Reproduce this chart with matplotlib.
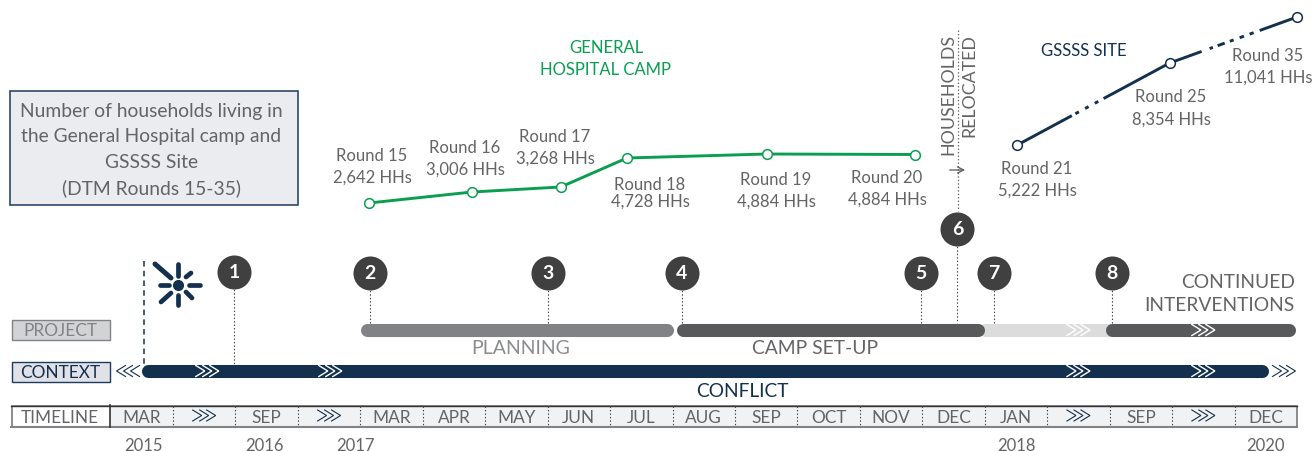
import matplotlib
matplotlib.use("Agg")
import matplotlib.pyplot as plt
from matplotlib.patches import Rectangle

plt.rcParams['font.family'] = ['Lato', 'DejaVu Sans']
plt.rcParams['lines.scale_dashes'] = False

# household counts per DTM round
green_rounds = ['Round 15', 'Round 16', 'Round 17', 'Round 18', 'Round 19', 'Round 20']
green_hhs = ['2,642 HHs', '3,006 HHs', '3,268 HHs', '4,728 HHs', '4,884 HHs', '4,884 HHs']
green_t = [4.14, 5.79, 7.21, 8.27, 10.51, 12.88]
green_level = [247.5, 258.5, 263.5, 292.5, 296.5, 296]

gsss_rounds = ['Round 21', 'Round 25', 'Round 35']
gsss_hhs = ['5,222 HHs', '8,354 HHs', '11,041 HHs']
gsss_t = [14.52, 16.96, 19.0]
gsss_level = [305.5, 387.5, 433.5]

# timeline, None = a >>> cell
months = ['MAR', None, 'SEP', None, 'MAR', 'APR', 'MAY', 'JUN', 'JUL', 'AUG', 'SEP',
          'OCT', 'NOV', 'DEC', 'JAN', None, 'SEP', None, 'DEC']
years = ['2015', '2016', '2017', '2018', '2020']
year_t = [0.52, 2.46, 3.92, 14.5, 18.5]

# numbered events
event_t = [1.98, 4.15, 7.0, 9.15, 12.98, 13.56, 14.15, 16.04]
event_level = [179, 178, 178, 178, 178, 222, 178, 178]
event_stop = [87, 128, 128, 128, 128, 128, 128, 128]

# bar spans in timeline units
planning = (4.0, 9.02)
setup = (9.07, 13.99)
gap = (13.9, 16.1)
continued = (15.94, 18.98)
conflict = (0.49, 18.55)

NAVY = '#14304f'
GREEN = '#0a9f50'
TEXT = '#636466'
UNIT = 62.45
X0 = 110.5


def to_px(t):
    return X0 + UNIT * t


fig = plt.figure(figsize=(13.14, 4.52), dpi=100)

# ax_t holds timeline marks, ax on top is pixel layout for labels
ax_t = fig.add_axes([0, 0, 1, 1])
ax_t.set_xlim(-X0 / UNIT, (1314 - X0) / UNIT)
ax_t.set_ylim(-0.5, 451.5)
ax_t.axis('off')

ax = fig.add_axes([0, 0, 1, 1])
ax.set_xlim(0, 1314)
ax.set_ylim(452, 0)
ax.axis('off')
ax.patch.set_alpha(0)


def label(x, y, s, size=12, color=TEXT, ha='center'):
    ax.text(x, y + 1, s, ha=ha, va='center', fontsize=size, color=color)


def bar(span, level, color, z=3):
    # round caps stick out half the line width
    cap = 6.5 / UNIT
    ax_t.plot([span[0] + cap, span[1] - cap], [level, level], color=color, lw=9.4,
              solid_capstyle='round', zorder=z)


def chevrons(x, y, color, flip=False, lw=1.0):
    d = -1 if flip else 1
    for i in (-1, 0, 1):
        cx = x + i * 7 * d
        ax.plot([cx - 4.5 * d, cx + 4.5 * d, cx - 4.5 * d], [y - 5.5, y, y + 5.5],
                color=color, lw=lw, solid_joinstyle='miter', zorder=6)


# title box
ax.add_patch(Rectangle((9.5, 92), 288.5, 114, fc='#ebecf0', ec='#1d3a5f', lw=1.1))
title = ['Number of households living in', 'the General Hospital camp and', 'GSSSS Site',
         '(DTM Rounds 15-35)']
for i, line in enumerate(title):
    label(151.5, 110 + i * 25.7, line, size=13.9)

# green line
ax_t.plot(green_t, green_level, color=GREEN, lw=2.1, marker='o', ms=7, mfc='white', mew=1.1,
          zorder=4)
green_lab = [(372, 155, 177), (465, 147, 169), (555, 136, 158), (650, 184, 201),
             (776, 179, 201), (887, 177, 199)]
for r, h, (x, y1, y2) in zip(green_rounds, green_hhs, green_lab):
    label(x, y1, r)
    label(x, y2, h)
label(606, 47, 'GENERAL', color=GREEN)
label(606, 69, 'HOSPITAL CAMP', color=GREEN)

# gsssss line, broken parts are custom dashes (pixels * .72)
dash1 = [v * 0.72 for v in [62, 4, 4, 7, 4, 7, 4, 6, 200, 1]]
dash2 = [v * 0.72 for v in [34, 8.5, 3.5, 5, 7.5, 5.5, 4, 6.4, 4.6, 6, 4.3, 6.4, 100, 1]]
ax_t.plot(gsss_t[:2], gsss_level[:2], color=NAVY, lw=2.1, dashes=dash1, dash_capstyle='butt', zorder=3)
ax_t.plot(gsss_t[1:], gsss_level[1:], color=NAVY, lw=2.1, dashes=dash2, dash_capstyle='butt', zorder=3)
ax_t.plot(gsss_t, gsss_level, ls='none', color=NAVY, marker='o', ms=7, mfc='white', mew=1.1, zorder=4)
gsss_lab = [(1037, 168, 190), (1171, 96, 119), (1268, 55, 77)]
for r, h, (x, y1, y2) in zip(gsss_rounds, gsss_hhs, gsss_lab):
    label(x, y1, r)
    label(x, y2, h)
label(1084, 50, 'GSSSS SITE', color=NAVY)

# relocation note
ax.text(948, 34, 'HOUSEHOLDS', rotation=90, ha='center', va='top', fontsize=12.8, color=TEXT)
ax.text(969, 34, 'RELOCATED', rotation=90, ha='center', va='top', fontsize=12.8, color=TEXT)
ax.annotate('', xy=(968, 171), xytext=(947, 171),
            arrowprops=dict(arrowstyle='->', color=TEXT, lw=1, mutation_scale=11))
ax.plot([958, 958], [31, 212], color=TEXT, lw=0.9, ls=(0, (1, 1.5)))

# logo
logo = [((155, 265), (171, 279), 3.6), ((178, 265), (178, 277), 3.4), ((186, 278), (191, 274), 3.4),
        ((189, 286), (200, 286), 3.4), ((186, 293), (192, 299), 3.4), ((178, 296), (178, 306), 3.4),
        ((161, 303), (171, 294), 3.4), ((160, 286), (169, 286), 3.4)]
for a, b, w in logo:
    ax.plot([a[0], b[0]], [a[1], b[1]], color=NAVY, lw=w, solid_capstyle='round')
ax.plot([178], [286], 'o', color=NAVY, ms=7)
ax.plot([143.5, 143.5], [262, 365], color=NAVY, lw=1.1, ls=(0, (4, 3)))

# project / context bars
bar(gap, 121, '#dcdcdc', z=2)
bar(planning, 121, '#808285')
bar(setup, 121, '#58595b')
bar(continued, 121, '#58595b')
bar(conflict, 80, NAVY)
chevrons(to_px(15.5), 331, 'white')
chevrons(to_px(17.5), 331, 'white')
for t in [1.55, 3.52, 15.5, 17.5]:
    chevrons(to_px(t), 372, 'white')
chevrons(128, 372, NAVY, flip=True, lw=0.8)
chevrons(1284, 372, NAVY, lw=0.8)

# events
for t, lev, stop, n in zip(event_t, event_level, event_stop, range(1, 9)):
    ax_t.plot([t, t], [lev, stop], color='#404040', lw=0.8, ls=(0, (1, 1.5)), zorder=1)
    ax_t.plot([t], [lev], 'o', color='#404040', ms=24.5, mew=0, zorder=5)
    ax_t.text(t, lev, str(n), ha='center', va='center', color='white', fontsize=14,
              fontweight='bold', zorder=6)

label(521, 348, 'PLANNING', size=14, color='#8a8c8e')
label(815, 348, 'CAMP SET-UP', size=13.9)
label(742, 391, 'CONFLICT', size=13.8, color=NAVY)
label(1295, 282, 'CONTINUED', size=13.9, ha='right')
label(1295, 305, 'INTERVENTIONS', size=13.9, ha='right')

# row headers
ax.add_patch(Rectangle((11.5, 320.5), 98, 20, fc='#d1d3d4', ec='#808285', lw=1))
label(60, 330, 'PROJECT', size=12.4, color='#808285')
ax.add_patch(Rectangle((11.5, 362.5), 98, 20, fc='#e1e2e8', ec='#1d3a5f', lw=1))
label(60, 372, 'CONTEXT', size=12.4, color=NAVY)

# timeline strip
ax.add_patch(Rectangle((110, 407), 1187, 20, fc='#f1f2f4', ec='none'))
ax.add_patch(Rectangle((11.5, 407), 1285.5, 20.5, fc='none', ec='#6d6e71', lw=1.1))
ax.plot([11, 1297], [406.5, 406.5], color='#333333', lw=1)
ax.plot([11, 1297], [427.5, 427.5], color='#808285', lw=1.5)
ax.plot([110, 110], [406, 428], color='#333333', lw=1.2)
label(60, 417, 'TIMELINE', size=12.4)
for i, m in enumerate(months):
    if i > 0:
        ax.plot([to_px(i)] * 2, [407, 427], color='#404040', lw=0.8, ls=(0, (1, 1.5)))
    if m is None:
        chevrons(to_px(i + 0.5), 416.5, NAVY, lw=0.8)
    else:
        label(to_px(i + 0.5), 417.5, m, size=12.4)
for t, y in zip(year_t, years):
    label(to_px(t), 445.5, y)

fig.savefig('out.png', dpi=100)
